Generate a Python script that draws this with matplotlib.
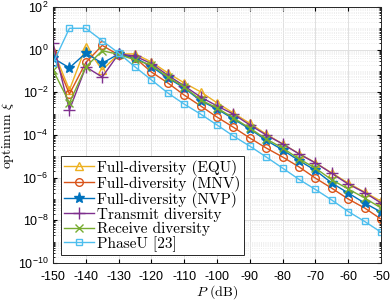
import numpy as np
import matplotlib.pyplot as plt
from matplotlib.ticker import LogLocator, NullFormatter

plt.rcParams['mathtext.fontset'] = 'cm'
plt.rcParams['axes.formatter.use_mathtext'] = True

P = [-150, -145, -140, -135, -130, -125, -120, -115, -110, -105, -100,
     -95, -90, -85, -80, -75, -70, -65, -60, -55, -50]

equ = [1.0, 1.29e-2, 1.35, 0.112, 0.63, 0.63, 0.263, 8.1e-2, 2.75e-2, 1.05e-2, 3.2e-3,
       1.07e-3, 3.5e-4, 1.1e-4, 3.8e-5, 1.35e-5, 5.0e-6, 1.66e-6, 5.6e-7, 2.1e-7, 7.9e-8]
mnv = [0.63, 8.3e-3, 0.25, 1.58, 0.56, 0.41, 8.9e-2, 2.75e-2, 7.4e-3, 2.3e-3, 6.9e-4,
       2.3e-4, 7.2e-5, 2.45e-5, 9.3e-6, 3.2e-6, 9.5e-7, 3.2e-7, 1.0e-7, 3.8e-8, 1.15e-8]
nvp = [0.4, 0.14, 0.69, 0.23, 0.63, 0.42, 0.16, 4.7e-2, 1.6e-2, 4.0e-3, 1.66e-3,
       5.6e-4, 1.9e-4, 5.6e-5, 2.0e-5, 6.3e-6, 2.2e-6, 5.6e-7, 1.9e-7, 6.5e-8, 2.45e-8]
transmit = [2.0, 1.5e-3, 0.155, 5.2e-2, 0.63, 0.5, 0.22, 6.3e-2, 2.0e-2, 6.0e-3, 2.3e-3,
            9.5e-4, 2.95e-4, 1.0e-4, 3.8e-5, 1.29e-5, 4.9e-6, 1.58e-6, 5.0e-7, 2.0e-7, 6.5e-8]
receive = [0.112, 3.2e-3, 0.155, 0.89, 0.6, 0.33, 0.19, 5.2e-2, 1.78e-2, 4.4e-3, 1.86e-3,
           6.3e-4, 2.1e-4, 6.5e-5, 2.45e-5, 7.6e-6, 2.8e-6, 7.9e-7, 2.95e-7, 1.12e-7, 3.8e-8]
phaseu = [0.23, 10.0, 10.0, 2.6, 0.69, 0.155, 3.8e-2, 9.3e-3, 2.8e-3, 9.5e-4, 2.95e-4,
          8.9e-5, 3.0e-5, 9.3e-6, 2.8e-6, 8.3e-7, 2.8e-7, 8.9e-8, 2.6e-8, 8.9e-9, 2.8e-9]

labels = ['Full-diversity (EQU)', 'Full-diversity (MNV)', 'Full-diversity (NVP)',
          'Transmit diversity', 'Receive diversity', 'PhaseU [23]']

fig = plt.figure(figsize=(3.9, 3.02), dpi=100)
ax = fig.add_axes([0.136, 0.129, 0.841, 0.848])

ax.semilogy(P, equ, '-^', color='#EDB120', lw=1, ms=5.5, mfc='none', mew=1, label=labels[0])
ax.semilogy(P, mnv, '-o', color='#D95319', lw=1, ms=5.5, mfc='none', mew=1, label=labels[1])
ax.semilogy(P, nvp, '-*', color='#0072BD', lw=1, ms=8, mew=1, label=labels[2])
ax.semilogy(P, transmit, '-+', color='#7E2F8E', lw=1, ms=8, mew=1, label=labels[3])
ax.semilogy(P, receive, '-x', color='#77AC30', lw=1, ms=5.5, mew=1, label=labels[4])
ax.semilogy(P, phaseu, '-s', color='#4DBEEE', lw=1, ms=5, mfc='none', mew=1, label=labels[5])

ax.set_xlim(-150, -50)
ax.set_ylim(1e-10, 1e2)
ax.set_xticks(np.arange(-150, -49, 10))
ax.yaxis.set_major_locator(LogLocator(base=100.0, numticks=10))
ax.yaxis.set_minor_locator(LogLocator(base=10.0, subs=np.arange(1, 10), numticks=100))
ax.yaxis.set_minor_formatter(NullFormatter())
ax.set_xticklabels([str(v) for v in range(-150, -49, 10)])

ax.tick_params(which='both', direction='in', top=True, right=True, labelsize=9)
ax.tick_params(which='major', length=3)
ax.tick_params(axis='x', which='major', pad=6)
ax.tick_params(which='minor', length=1.5)
for t in ax.get_xticklabels() + ax.get_yticklabels():
    t.set_family('Liberation Sans')

ax.grid(True, which='major', color='#e0e0e0', lw=0.7)
ax.grid(True, which='minor', axis='y', color='#e8e8e8', lw=0.6, ls=':')
ax.set_axisbelow(True)
for s in ax.spines.values():
    s.set_color('#262626')
    s.set_linewidth(0.7)

ax.set_xlabel(r'$P$ (dB)', family='cmr10', fontsize=10, labelpad=0)
ax.set_ylabel(r'optimum $\xi$', family='cmr10', fontsize=10, labelpad=1)

leg = ax.legend(loc='lower left', prop={'family': 'cmr10', 'size': 11}, fancybox=False,
                edgecolor='#262626', framealpha=1, borderpad=0.25, labelspacing=0.0,
                handlelength=1.9, handletextpad=0.2, borderaxespad=0.5)
leg.get_frame().set_linewidth(0.7)

plt.savefig('out.png', dpi=100)
